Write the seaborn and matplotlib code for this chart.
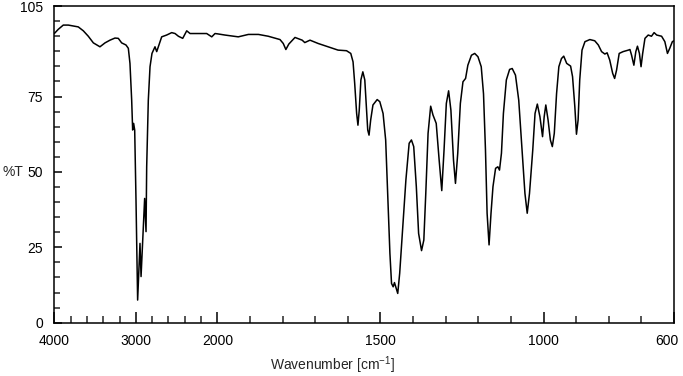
"""
IR transmission spectrum, redrawn with seaborn.

The wavenumber axis is split: 4000-2000 cm-1 is compressed 4x relative
to 2000-600 cm-1, as on many FTIR printouts.
"""

import numpy as np
import pandas as pd
import matplotlib
matplotlib.use("Agg")
import matplotlib.pyplot as plt
import matplotlib.transforms as mtransforms
import seaborn as sns
from matplotlib.ticker import FixedLocator

# Spectrum (wavenumber in cm-1, transmittance in %)
wavenumber = [
    4000, 3951, 3890, 3828, 3767, 3706, 3644, 3583, 3521, 3440, 3378, 3317,
    3256, 3215, 3174, 3121, 3092, 3072, 3051, 3039, 3027, 3014, 2998, 2978,
    2961, 2949, 2936, 2916, 2892, 2875, 2867, 2847, 2826, 2802, 2765, 2744,
    2724, 2683, 2622, 2560, 2519, 2478, 2425, 2376, 2335, 2254, 2131, 2069,
    2029,
    2000, 1977, 1936, 1905, 1874, 1844, 1808, 1798, 1790, 1781, 1762, 1740,
    1732, 1716, 1691, 1660, 1630, 1604, 1591, 1584, 1579, 1573, 1569, 1565,
    1560, 1554, 1548, 1543, 1539, 1535, 1530, 1523, 1510, 1502, 1492, 1484,
    1477, 1471, 1466, 1461, 1457, 1453, 1447, 1441, 1433, 1422, 1412, 1405,
    1398, 1390, 1383, 1374, 1367, 1361, 1354, 1346, 1339, 1329, 1320, 1312,
    1305, 1298, 1291, 1284, 1276, 1270, 1263, 1255, 1247, 1239, 1232, 1221,
    1211, 1201, 1191, 1184, 1178, 1173, 1167, 1161, 1155, 1147, 1140, 1135,
    1129, 1123, 1114, 1104, 1096, 1086, 1076, 1066, 1057, 1050, 1043, 1033,
    1026, 1019, 1011, 1003, 998, 993, 986, 979, 973, 967, 960, 953,
    945, 938, 929, 917, 911, 904, 899, 894, 889, 882, 873, 858,
    843, 832, 822, 812, 805, 797, 788, 782, 776, 768, 756, 740,
    735, 730, 723, 717, 712, 706, 701, 696, 689, 679, 669, 661,
    653, 638, 628, 620, 613, 605, 600,
]
transmittance = [
    95.9, 97.3, 98.7, 98.7, 98.4, 98.1, 96.8, 95.0, 92.8, 91.5, 92.8, 93.7,
    94.4, 94.3, 92.8, 92.1, 91.0, 86.0, 73.8, 63.9, 66.1, 63.9, 40.7, 7.5,
    18.6, 26.3, 15.3, 27.4, 41.2, 30.2, 51.7, 73.8, 84.9, 89.3, 91.5, 89.9,
    91.5, 94.8, 95.4, 96.2, 95.9, 95.0, 94.3, 96.8, 95.9, 95.9, 95.9, 94.8,
    95.9,
    95.8, 95.4, 94.8, 95.6, 95.6, 95.0, 93.9, 92.6, 90.6, 92.4, 94.6, 93.7,
    92.9, 93.7, 92.6, 91.5, 90.4, 90.2, 89.3, 86.5, 79.4, 69.4, 65.5, 70.5,
    80.5, 83.2, 80.5, 71.6, 63.9, 62.2, 67.2, 72.2, 74.0, 73.3, 69.4, 60.6,
    40.7, 23.0, 13.0, 11.9, 13.3, 11.9, 9.7, 16.4, 29.6, 47.3, 59.5, 60.6,
    58.4, 45.1, 29.6, 23.9, 27.4, 42.9, 62.8, 71.8, 68.9, 66.1, 53.9, 43.8,
    57.3, 72.7, 76.9, 70.5, 53.9, 46.2, 56.2, 72.7, 79.9, 81.0, 85.4, 88.7,
    89.3, 88.2, 84.9, 75.9, 57.3, 36.3, 25.8, 36.3, 45.1, 51.2, 51.7, 50.6,
    56.2, 69.4, 80.5, 84.0, 84.3, 82.1, 73.8, 57.3, 42.9, 36.3, 42.9, 57.3,
    69.4, 72.5, 68.3, 61.7, 68.3, 72.2, 67.2, 60.6, 58.4, 62.8, 76.0, 84.9,
    87.6, 88.4, 86.0, 85.1, 81.6, 71.6, 62.5, 67.2, 80.5, 90.4, 93.2, 93.9,
    93.5, 92.1, 89.9, 89.1, 89.5, 87.1, 82.7, 81.0, 83.8, 89.3, 89.9, 90.4,
    90.6, 88.7, 85.4, 89.9, 91.7, 89.3, 84.9, 89.3, 94.3, 95.4, 95.0, 96.2,
    95.4, 95.0, 93.2, 89.3, 91.0, 93.2, 93.5,
]

x_major = [4000, 3000, 2000, 1500, 1000, 600]
x_minor = list(range(3800, 2000, -200)) + [1900, 1800, 1700, 1600, 1400, 1300,
                                            1200, 1100, 900, 800, 700]
y_major = [0, 25, 50, 75, 105]
y_minor = [v for v in range(5, 105, 5) if v not in (25, 50, 75)]

BREAK = 2000   # above this the axis is compressed
SQUEEZE = 4.0


def forward(w):
    w = np.asarray(w, dtype=float)
    return np.where(w <= BREAK, w, BREAK + (w - BREAK) / SQUEEZE)


def inverse(p):
    p = np.asarray(p, dtype=float)
    return np.where(p <= BREAK, p, BREAK + (p - BREAK) * SQUEEZE)


def plot_spectrum(out_path="out.png"):
    sns.set_style("white")
    plt.rcParams["font.family"] = ["Liberation Sans", "DejaVu Sans"]

    df = pd.DataFrame({"Wavenumber": wavenumber, "T": transmittance})

    fig = plt.figure(figsize=(6.83, 3.76), dpi=100)
    ax = fig.add_axes([0.0795, 0.1418, 0.9073, 0.842])

    sns.lineplot(data=df, x="Wavenumber", y="T", color="black",
                 linewidth=1.1, ax=ax, sort=False)

    ax.set_xscale("function", functions=(forward, inverse))
    ax.set_xlim(4000, 600)
    ax.set_ylim(0, 105)

    ax.xaxis.set_major_locator(FixedLocator(x_major))
    ax.xaxis.set_minor_locator(FixedLocator(x_minor))
    ax.set_xticklabels([str(v) for v in x_major])
    ax.yaxis.set_major_locator(FixedLocator(y_major))
    ax.yaxis.set_minor_locator(FixedLocator(y_minor))
    ax.set_yticklabels([str(v) for v in y_major])

    ax.tick_params(axis="x", which="major", direction="in", length=8,
                   width=1.1, pad=8, labelsize=10, colors="black",
                   bottom=True, top=False)
    ax.tick_params(axis="x", which="minor", direction="in", length=5.3,
                   width=1.1, bottom=True, top=False)
    ax.tick_params(axis="y", which="major", direction="in", length=6,
                   width=1.1, pad=8, labelsize=10, colors="black",
                   left=True, right=False)
    ax.tick_params(axis="y", which="minor", direction="in", length=4,
                   width=1.1, left=True, right=False)

    # the last label (600) sits a little left of its tick, inside the figure
    shift = mtransforms.ScaledTranslation(-7 / 100, 0, fig.dpi_scale_trans)
    last = ax.get_xticklabels()[-1]
    last.set_transform(last.get_transform() + shift)

    for side in ["left", "right", "top", "bottom"]:
        ax.spines[side].set_visible(True)
        ax.spines[side].set_color("black")
        ax.spines[side].set_linewidth(1.1)

    ax.set_xlabel(r"Wavenumber [cm$^{\mathregular{-1}}$]", fontsize=10,
                  va="center")
    ax.xaxis.set_label_coords((332 - 54) / 620, -0.133)
    ax.set_ylabel("%T", fontsize=10, rotation=0, ha="left", va="center")
    ax.yaxis.set_label_coords(-0.083, 50 / 105)

    fig.savefig(out_path, dpi=100)
    plt.close(fig)


if __name__ == "__main__":
    plot_spectrum()
